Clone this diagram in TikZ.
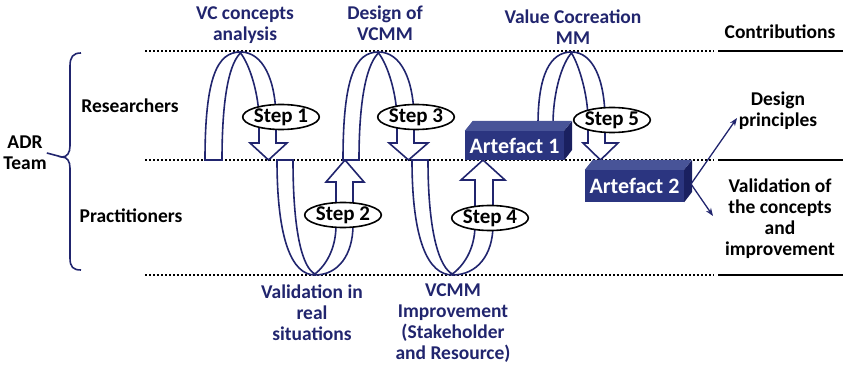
\documentclass[tikz,border=0pt]{standalone}
\usepackage{fontspec}
\setmainfont{Carlito}
\usetikzlibrary{shapes.geometric,arrows.meta}

\definecolor{navy}{RGB}{33,37,110}
\definecolor{boxfront}{RGB}{43,53,128}
\definecolor{boxtop}{RGB}{72,84,152}
\definecolor{boxside}{RGB}{26,32,96}

\tikzset{
  lbl/.style={font=\fontsize{19.5}{21}\selectfont\bfseries, align=center, inner sep=0pt},
  bluelbl/.style={lbl, text=navy},
  ribbon/.style={draw=navy, line width=1.6pt, fill=white, line join=miter},
  stepnode/.style={ellipse, draw=black, line width=1.6pt, fill=white, minimum width=72pt,
    minimum height=25pt, inner sep=0pt, font=\fontsize{21}{22}\selectfont\bfseries},
  artefact/.style={fill=boxfront, text=white, minimum width=99pt, minimum height=30pt,
    inner sep=0pt, font=\fontsize{22}{23}\selectfont\bfseries},
  dotline/.style={line width=1.8pt, dash pattern=on 1.8pt off 2.2pt},
  solidline/.style={line width=2.4pt},
  thinarrow/.style={draw=navy, line width=1.3pt, -{Stealth[length=8pt,width=6pt]}}
}

\begin{document}
\begin{tikzpicture}[x=1pt,y=-1pt]
    \useasboundingbox (0,0) rectangle (843,366);

    % swim lanes
    \foreach \yy in {51,160,275} {
      \draw [dotline] (145,\yy) -- (714,\yy);
      \draw [solidline] (718,\yy) -- (843,\yy);
    }

    % team brace
    \node [lbl] (adr) at (25,153) {ADR\\Team};
    \coordinate (bracetip) at (62,157);
    \draw [navy, line width=1.6pt] (81,53) .. controls (73,53) and (70,57) .. (70,66) -- (70,146)
      .. controls (70,153) and (67,157) .. (bracetip)
      .. controls (67,157) and (70,161) .. (70,168) -- (70,258)
      .. controls (70,267) and (73,270) .. (81,270);
    \draw [navy, line width=1.6pt] (adr.east) -- (bracetip);
    \node [lbl] (res) at (130,106) {Researchers};
    \node [lbl] (prac) at (131,216) {Practitioners};

    % loop 1 (down)
    \draw [ribbon] (205,160) .. controls (205,75) and (218,52) .. (240.5,52)
      .. controls (263,52) and (276,80) .. (276,120) -- (276,143)
      -- (287,143) -- (268.5,160) -- (250,143) -- (259,143) -- (259,120)
      .. controls (259,95) and (250,65) .. (240.5,53) .. controls (231,62) and (222,90) .. (222,160) -- cycle;
    % loop 2 (up)
    \draw [ribbon] (277,160) .. controls (277,240) and (292,275) .. (315,275)
      .. controls (338,275) and (353,255) .. (353,225) -- (353,182)
      -- (364,182) -- (345,160) -- (326,182) -- (336,182) -- (336,225)
      .. controls (336,250) and (325,266) .. (315,274) .. controls (303,268) and (293,235) .. (293,160) -- cycle;
    % loop 3 (down)
    \draw [ribbon] (343,160) .. controls (343,75) and (356,52) .. (378.5,52)
      .. controls (401,52) and (414,80) .. (414,120) -- (414,143)
      -- (428,143) -- (408.5,160) -- (389,143) -- (397,143) -- (397,120)
      .. controls (397,95) and (388,65) .. (378.5,53) .. controls (369,62) and (359,90) .. (359,160) -- cycle;
    % loop 4 (up)
    \draw [ribbon] (412,160) .. controls (412,240) and (428,275) .. (452.5,275)
      .. controls (477,275) and (493,255) .. (493,225) -- (493,180)
      -- (505,180) -- (483,160) -- (461,180) -- (475,180) -- (475,225)
      .. controls (475,250) and (463,266) .. (452.5,274) .. controls (440,268) and (428,235) .. (428,160) -- cycle;
    % loop 5 (down)
    \draw [ribbon] (538,125) .. controls (538,75) and (550,52) .. (571.5,52)
      .. controls (593,52) and (605,80) .. (605,120) -- (605,143)
      -- (618,143) -- (600.5,160) -- (583,143) -- (588,143) -- (588,120)
      .. controls (588,95) and (579,65) .. (571.5,53) .. controls (563,62) and (553,90) .. (553,125) -- cycle;

    % steps
    \node [stepnode] (s1) at (281,117) {Step 1};
    \node [stepnode] (s2) at (343,215) {Step 2};
    \node [stepnode] (s3) at (416,117) {Step 3};
    \node [stepnode] (s4) at (490,218) {Step 4};
    \node [stepnode] (s5) at (612,120) {Step 5};

    % artefacts
    \node [artefact, minimum height=29pt] (art1) at (514.5,145.5) {Artefact 1};
    \fill [boxtop] (art1.north west) -- ++(8,-10) -- ++(99,0) -- (art1.north east) -- cycle;
    \fill [boxside] (art1.north east) -- ++(8,-10) -- ++(0,29) -- (art1.south east) -- cycle;
    \node [artefact, minimum height=32pt] (art2) at (634.5,186) {Artefact 2};
    \fill [boxtop] (art2.north west) -- ++(8,-10) -- ++(99,0) -- (art2.north east) -- cycle;
    \fill [boxside] (art2.north east) -- ++(8,-10) -- ++(0,32) -- (art2.south east) -- cycle;

    % activity labels
    \node [bluelbl] (vc) at (245,25) {VC concepts\\analysis};
    \node [bluelbl] (dv) at (385,23) {Design of\\VCMM};
    \node [bluelbl] (vcm) at (573,27) {Value Cocreation\\MM};
    \node [bluelbl] (val) at (312,313) {Validation in\\real\\situations};
    \node [bluelbl] (imp) at (453,323) {VCMM\\Improvement\\(Stakeholder\\and Resource)};

    % contributions
    \node [lbl] (contr) at (780,32) {Contributions};
    \node [lbl] (dp) at (778,111) {Design\\principles};
    \node [lbl] (vconc) at (780,219) {Validation of\\the concepts\\and\\improvement};
    \coordinate (a2out) at (691,184);
    \coordinate (dpin) at (737,118);
    \coordinate (vcin) at (713,216);
    \draw [thinarrow] (a2out) -- (dpin);
    \draw [thinarrow] (a2out) -- (vcin);
\end{tikzpicture}
\end{document}
